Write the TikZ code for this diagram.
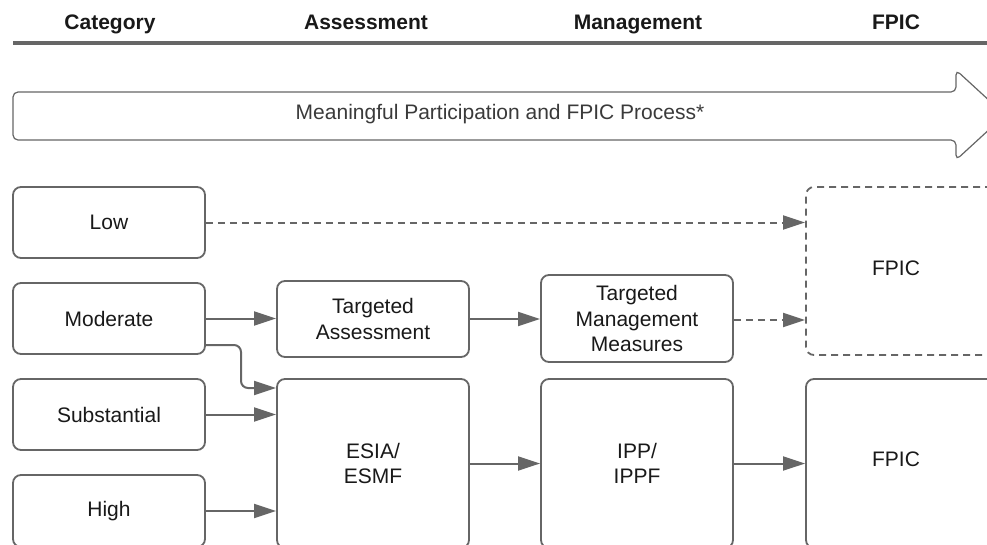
\documentclass[tikz,border=0pt]{standalone}
\usepackage{fontspec}
\setmainfont{Liberation Sans}
\usepackage{tikz}
\usetikzlibrary{arrows.meta}
\definecolor{linegray}{HTML}{666666}
\definecolor{txtgray}{HTML}{3A3A3A}

\begin{document}
\begin{tikzpicture}[x=1pt,y=-1pt,
    every node/.style={font=\fontsize{21}{25.5}\selectfont, text=black!90},
    head/.style={font=\fontsize{21}{25.5}\selectfont\bfseries, anchor=base},
    catbox/.style={draw=linegray, line width=1.8pt, rounded corners=8pt, fill=white,
        minimum width=192pt, minimum height=71pt, inner sep=0pt, align=center},
    dashbox/.style={catbox, dashed, dash pattern=on 7pt off 5pt},
    conn/.style={draw=linegray, line width=2pt, -{Triangle[length=22pt,width=14pt]}},
    dconn/.style={conn, dash pattern=on 7pt off 5pt}]
                \useasboundingbox (0,0) rectangle (987,544);
                % 表头
                \node[head] (hcat) at (110,29.5) {Category};
                \node[head] (hass) at (366,29.5) {Assessment};
                \node[head] (hman) at (638,29.5) {Management};
                \node[head] (hfpic) at (896,29.5) {FPIC};
                \draw[linegray, line width=3.5pt] (13,43) -- (990,43);
                % 大箭头
                \draw[linegray, line width=1.2pt, fill=white, rounded corners=5pt]
                    (13,92) -- (956,92) -- (956,70) -- (1005,115) -- (956,160)
                    -- (956,140) -- (13,140) -- cycle;
                \node[text=txtgray] (proc) at (500,114.5) {Meaningful Participation and FPIC Process*};
                % 类别方框
                \node[catbox] (low) at (109,222.5) {Low};
                \node[catbox] (mod) at (109,318.5) {Moderate};
                \node[catbox] (sub) at (109,414.5) {Substantial};
                \node[catbox, minimum height=72pt] (high) at (109,511) {High};
                % 评估与管理方框
                \node[catbox, minimum height=76pt] (tass) at (373,319) {Targeted\\Assessment};
                \node[catbox, minimum height=87pt] (tman) at (637,318.5) {Targeted\\Management\\Measures};
                \node[catbox, minimum height=169pt] (esia) at (373,463.5) {ESIA/\\ESMF};
                \node[catbox, minimum height=169pt] (ipp) at (637,463.5) {IPP/\\IPPF};
                % FPIC 方框
                \node[dashbox, minimum width=194pt, minimum height=168pt,
                    label={[xshift=-7pt,yshift=3pt]center:FPIC}] (fpica) at (903,271) {};
                \node[catbox, minimum width=194pt, minimum height=169pt,
                    label={[xshift=-7pt,yshift=4pt]center:FPIC}] (fpicb) at (903,463.5) {};
                % 箭头
                \draw[dconn] (low.east) -- (low.east -| fpica.west);
                \draw[dconn] ([yshift=-1.5pt]tman.east) -- ([yshift=-1.5pt]tman.east -| fpica.west);
                \draw[conn] (mod.east) -- (mod.east -| tass.west);
                \draw[conn] (tass.east) -- (tass.east -| tman.west);
                \coordinate (bend) at (241,388);
                \draw[conn, rounded corners=7pt] ([yshift=-26.5pt]mod.east) -| (bend) -- (bend -| esia.west);
                \draw[conn] (sub.east) -- (sub.east -| esia.west);
                \draw[conn] (high.east) -- (high.east -| esia.west);
                \draw[conn] (esia.east) -- (ipp.west);
                \draw[conn] (ipp.east) -- (fpicb.west);
\end{tikzpicture}
\end{document}
